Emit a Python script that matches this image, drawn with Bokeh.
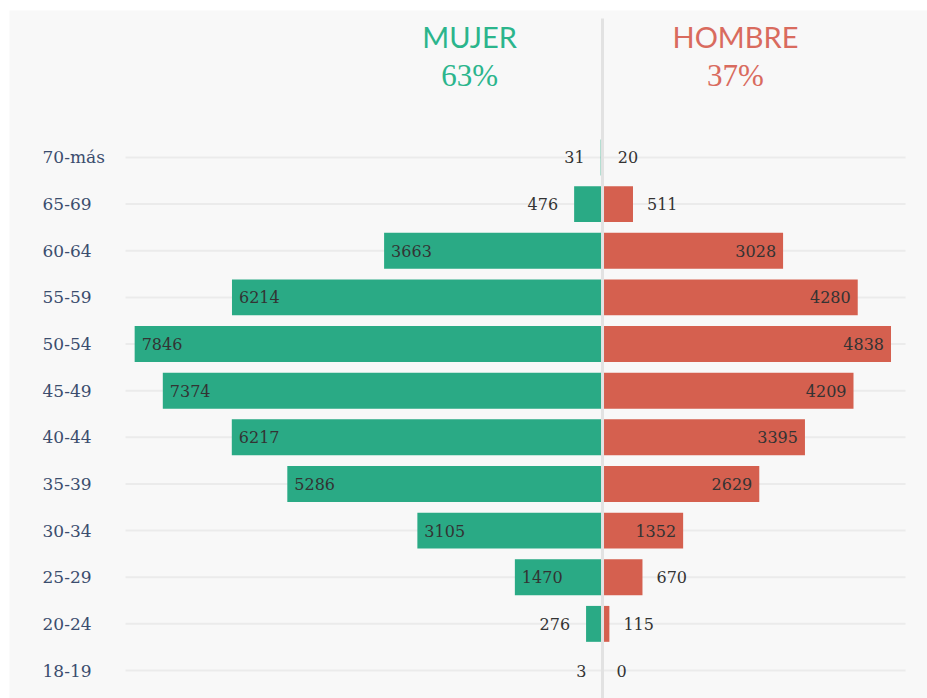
from bokeh.plotting import figure
from bokeh.models import ColumnDataSource
from bokeh.core.properties import value
from bokeh.embed import file_html
from bokeh.resources import INLINE

# ---- data ----
categories = ["70-más", "65-69", "60-64", "55-59", "50-54", "45-49",
              "40-44", "35-39", "30-34", "25-29", "20-24", "18-19"]
mujer = [31, 476, 3663, 6214, 7846, 7374, 6217, 5286, 3105, 1470, 276, 3]
hombre = [20, 511, 3028, 4280, 4838, 4209, 3395, 2629, 1352, 670, 115, 0]
title_left, title_right = "MUJER", "HOMBRE"
pct_left, pct_right = "63%", "37%"

# ---- styling ----
GREEN = "#2aaa85"
RED = "#d5604f"
GREEN_T = "#2bb58c"
RED_T = "#d96b5e"
BG = "#f8f8f8"
LABEL_C = "#3b4d6e"
VAL_C = "#333333"
SERIF = "DejaVu Serif"

n = len(categories)
ys = [n - 1 - i for i in range(n)]

p = figure(width=927, height=698, output_backend="svg", toolbar_location=None,
           x_range=(-9945, 5450), y_range=(-0.60, 14.151),
           min_border=0, min_border_left=9, min_border_top=10,
           background_fill_color=BG, border_fill_color="white",
           outline_line_color=None)
p.axis.visible = False
p.grid.visible = False

# grid lines per row
GRID_X0, GRID_X1 = -8000, 5081
p.segment(x0=[GRID_X0] * n, x1=[GRID_X1] * n, y0=ys, y1=ys,
          line_color="#ebebeb", line_width=2)

src = ColumnDataSource(dict(y=ys, cat=categories, m=mujer, h=hombre,
                            mneg=[-v for v in mujer]))
p.hbar(y="y", left="mneg", right=0, height=0.77, source=src,
       fill_color=GREEN, line_color=None)
p.hbar(y="y", left=0, right="h", height=0.77, source=src,
       fill_color=RED, line_color=None)

# center line
p.segment(x0=[0], x1=[0], y0=[13.98], y1=[-0.60], line_color="#e2e2e2", line_width=3)

# category labels
LABEL_X = -9391
p.text(x=[LABEL_X] * n, y=ys, text=categories, text_font=value(SERIF),
       text_font_size="17px", text_color=LABEL_C, text_baseline="middle",
       text_align="left")

# value labels
TH = 1000
m_in = [i for i in range(n) if mujer[i] > TH]
m_out = [i for i in range(n) if mujer[i] <= TH]
h_in = [i for i in range(n) if hombre[i] > TH]
h_out = [i for i in range(n) if hombre[i] <= TH]

def vlabels(idx, vals, sign, align, off):
    p.text(x=[sign * vals[i] for i in idx], y=[ys[i] for i in idx],
           text=[str(vals[i]) for i in idx], text_font=value(SERIF),
           text_font_size="16px", text_color=VAL_C, text_baseline="middle",
           text_align=align, x_offset=off)

vlabels(m_in, mujer, -1, "left", 7)
vlabels(m_out, mujer, -1, "right", -16)
vlabels(h_in, hombre, 1, "right", -7)
vlabels(h_out, hombre, 1, "left", 14)

# titles
TX = 2230
p.text(x=[-TX], y=[13.59], text=[title_left], text_font=value("Lato"),
       text_font_size="29px", text_color=GREEN_T, text_align="center",
       text_baseline="middle")
p.text(x=[TX], y=[13.59], text=[title_right], text_font=value("Lato"),
       text_font_size="29px", text_color=RED_T, text_align="center",
       text_baseline="middle")
p.text(x=[-TX], y=[12.76], text=[pct_left], text_font=value("Liberation Serif"),
       text_font_size="31px", text_color=GREEN_T, text_align="center",
       text_baseline="middle")
p.text(x=[TX], y=[12.76], text=[pct_right], text_font=value("Liberation Serif"),
       text_font_size="31px", text_color=RED_T, text_align="center",
       text_baseline="middle")

open("out.html", "w").write(file_html(p, INLINE))
